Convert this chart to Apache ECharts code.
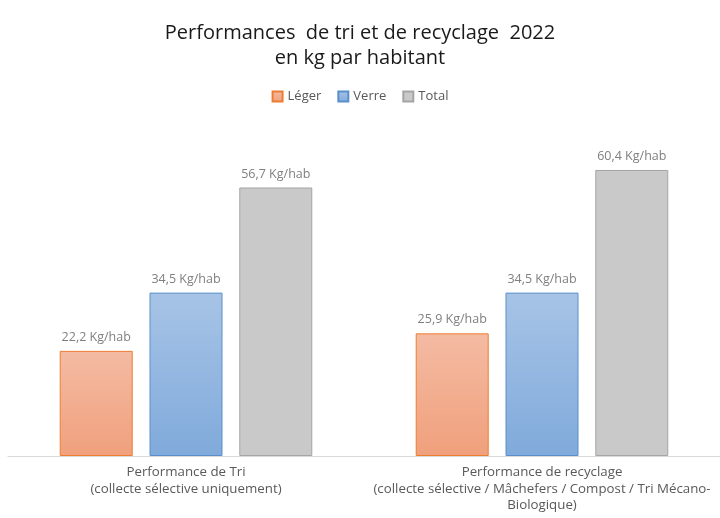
<!DOCTYPE html>
<html><head><meta charset="utf-8">
<script src="https://cdn.jsdelivr.net/npm/echarts@6/dist/echarts.min.js"></script>
<style>html,body{margin:0;padding:0;background:#fff}#c{width:720px;height:518px}</style>
</head><body><div id="c"></div>
<script>
var categories = ['Performance de Tri\n(collecte sélective uniquement)', 'Performance de recyclage\n(collecte sélective / Mâchefers / Compost / Tri Mécano-\nBiologique)'];
var leger = [22.2, 25.9];
var verre = [34.5, 34.5];
var total = [56.7, 60.4];
var seriesNames = ['Léger', 'Verre', 'Total'];

function grad(top, bottom) {
  return new echarts.graphic.LinearGradient(0, 0, 0, 1, [{offset: 0, color: top}, {offset: 1, color: bottom}]);
}
var FONT = '"Open Sans", "Noto Sans", sans-serif';
function fmt(p) { return p.value.toFixed(1).replace('.', ',') + ' Kg/hab'; }
var labelCfg = {show: true, position: 'top', formatter: fmt, color: '#7f7f7f', fontSize: 12.5, fontFamily: FONT, distance: 7};

var chart = echarts.init(document.getElementById('c'));
chart.setOption({
  animation: false,
  title: {
    text: 'Performances  de tri et de recyclage  2022\nen kg par habitant',
    left: 'center', top: 16,
    textStyle: {fontFamily: FONT, fontWeight: 'normal', fontSize: 20, color: '#1a1a1a', lineHeight: 25}
  },
  legend: {
    data: seriesNames, top: 85, left: 'center', itemWidth: 10, itemHeight: 10, itemGap: 16,
    icon: 'rect',
    textStyle: {fontFamily: FONT, fontSize: 13, color: '#595959', padding: [0, 0, 0, 0]}
  },
  grid: {left: 8, right: 0, top: 124.5, bottom: 62, containLabel: false},
  xAxis: {
    type: 'category', data: categories,
    axisLine: {lineStyle: {color: '#d9d9d9', width: 1}},
    axisTick: {show: false},
    axisLabel: {fontFamily: FONT, fontSize: 13.3, color: '#595959', lineHeight: 16.5, margin: 8, interval: 0}
  },
  yAxis: {type: 'value', min: 0, max: 70, show: false, splitLine: {show: false}},
  series: [
    {name: 'Léger', type: 'bar', data: leger, barWidth: 73, barGap: '23%',
     itemStyle: {color: grad('#f4bba3', '#f0a07c'), borderColor: '#ed7d31', borderWidth: 1}, label: labelCfg},
    {name: 'Verre', type: 'bar', data: verre, barWidth: 73,
     itemStyle: {color: grad('#a7c4e6', '#80aadb'), borderColor: '#5b8fcb', borderWidth: 1}, label: labelCfg},
    {name: 'Total', type: 'bar', data: total, barWidth: 73,
     itemStyle: {color: '#c9c9c9', borderColor: '#a5a5a5', borderWidth: 1}, label: labelCfg}
  ]
});
</script></body></html>
